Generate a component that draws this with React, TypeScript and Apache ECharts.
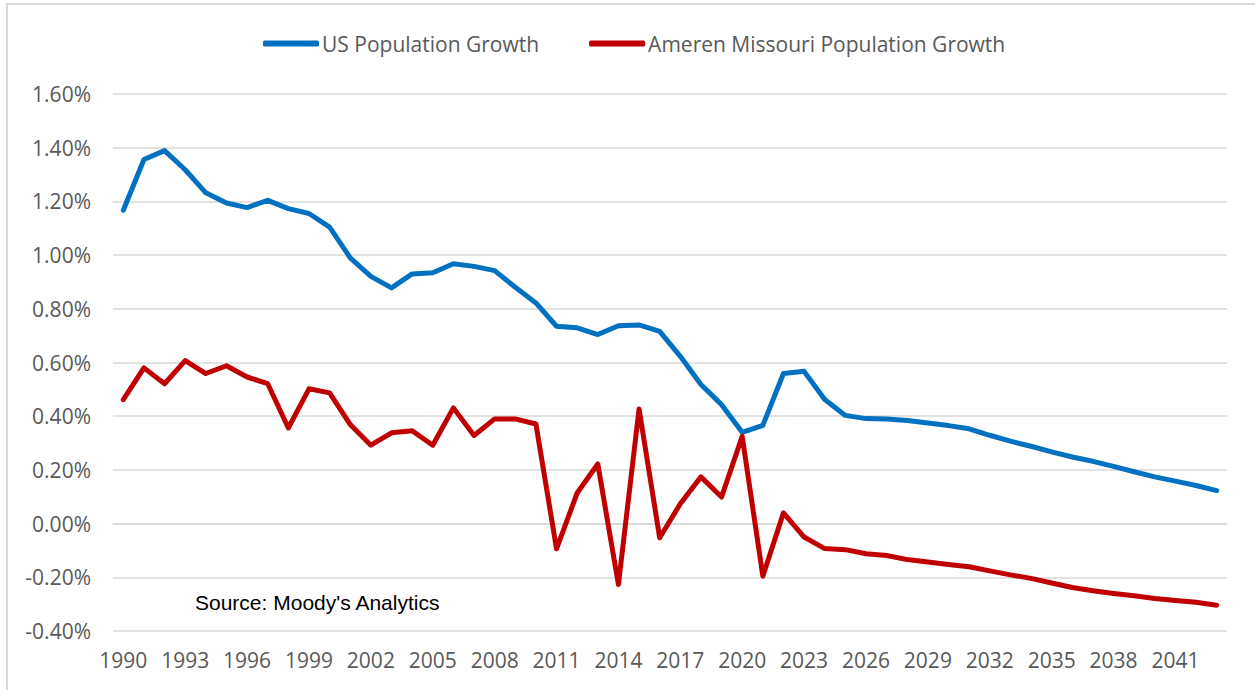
import React, { useEffect, useRef } from "react";
import * as echarts from "echarts";

const years: string[] = [];
for (let y = 1990; y <= 2043; y++) years.push(String(y));

const usGrowth = [
  1.167, 1.356, 1.389, 1.318, 1.232, 1.194, 1.177, 1.204, 1.173, 1.155,
  1.104, 0.99, 0.921, 0.878, 0.93, 0.934, 0.968, 0.958, 0.942, 0.88,
  0.822, 0.735, 0.729, 0.704, 0.737, 0.74, 0.716, 0.623, 0.518, 0.443,
  0.34, 0.366, 0.559, 0.567, 0.462, 0.403, 0.391, 0.39, 0.384, 0.375,
  0.365, 0.353, 0.329, 0.307, 0.288, 0.267, 0.248, 0.232, 0.213, 0.193,
  0.174, 0.158, 0.142, 0.123,
];

const amerenGrowth = [
  0.462, 0.58, 0.521, 0.607, 0.559, 0.588, 0.546, 0.521, 0.356, 0.502,
  0.487, 0.369, 0.292, 0.338, 0.346, 0.292, 0.431, 0.328, 0.39, 0.39,
  0.371, -0.094, 0.114, 0.222, -0.227, 0.427, -0.053, 0.074, 0.174, 0.099,
  0.325, -0.196, 0.04, -0.05, -0.093, -0.097, -0.112, -0.119, -0.134, -0.143,
  -0.152, -0.161, -0.176, -0.191, -0.204, -0.221, -0.238, -0.25, -0.26, -0.269,
  -0.279, -0.286, -0.293, -0.304,
];

const seriesNames = ["US Population Growth", "Ameren Missouri Population Growth"];
const sourceNote = "Source: Moody's Analytics";

export default function App() {
  const ref = useRef<HTMLDivElement>(null);
  useEffect(() => {
    document.body.style.margin = "0";
    const chart = echarts.init(ref.current!, null, { renderer: "svg" });
    const font = "'Open Sans', sans-serif";
    chart.setOption({
      animation: false,
      backgroundColor: "#ffffff",
      grid: { left: 113, right: 28, top: 94, bottom: 59 },
      legend: {
        data: seriesNames,
        left: 258,
        top: 28,
        icon: "roundRect",
        itemWidth: 56,
        itemHeight: 6,
        itemGap: 50,
        textStyle: { fontFamily: font, fontSize: 21, color: "#595959", padding: [0, 0, 0, -2] },
      },
      xAxis: {
        type: "category",
        data: years,
        boundaryGap: true,
        axisLine: { lineStyle: { color: "#d9d9d9", width: 1.5 } },
        axisTick: { show: false },
        axisLabel: {
          interval: 2,
          fontFamily: font,
          fontSize: 21,
          color: "#595959",
          margin: 18,
        },
      },
      yAxis: {
        type: "value",
        min: -0.4,
        max: 1.6,
        interval: 0.2,
        axisLine: { show: false },
        axisTick: { show: false },
        splitLine: { lineStyle: { color: "#d9d9d9", width: 1.5 } },
        axisLabel: {
          fontFamily: font,
          fontSize: 21,
          color: "#595959",
          margin: 22,
          formatter: (v: number) => v.toFixed(2) + "%",
        },
      },
      graphic: [
        {
          type: "text",
          left: 195,
          top: 592,
          style: {
            text: sourceNote,
            fontFamily: "'Liberation Sans', Arial, sans-serif",
            fontSize: 21,
            fill: "#000000",
          },
        },
      ],
      series: [
        {
          name: seriesNames[0],
          type: "line",
          data: usGrowth,
          symbol: "none",
          color: "#0070C0",
          lineStyle: { width: 5, color: "#0070C0", cap: "round", join: "round" },
        },
        {
          name: seriesNames[1],
          type: "line",
          data: amerenGrowth,
          symbol: "none",
          color: "#C00000",
          lineStyle: { width: 5, color: "#C00000", cap: "round", join: "round" },
        },
      ],
    });
    return () => chart.dispose();
  }, []);
  return (
    <div style={{ position: "relative", width: 1255, height: 690, overflow: "hidden", background: "#fff" }}>
      <div ref={ref} style={{ position: "absolute", left: 0, top: 0, width: 1255, height: 690 }} />
      <div
        style={{
          position: "absolute",
          left: 6,
          top: 3,
          width: 1400,
          height: 800,
          borderLeft: "2px solid #d9d9d9",
          borderTop: "2px solid #d9d9d9",
          pointerEvents: "none",
        }}
      />
    </div>
  );
}
